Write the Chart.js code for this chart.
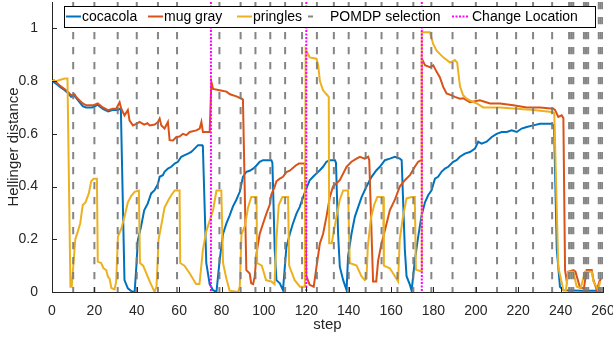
<!DOCTYPE html>
<html>
<head>
<meta charset="utf-8">
<script src="https://cdn.jsdelivr.net/npm/chart.js@4.4.0/dist/chart.umd.min.js"></script>
<style>
  html, body { margin: 0; padding: 0; background: #fff; }
  #wrap { width: 613px; height: 337px; }
</style>
</head>
<body>
<div id="wrap"><canvas id="chart" width="613" height="337"></canvas></div>
<script>
// [step, Hellinger distance]
const cocacola = [
  [0,0.80],[2,0.79],[3.5,0.78],[6,0.765],[7.5,0.755],[9,0.74],[10.5,0.745],[11.5,0.735],[13,0.72],[14.5,0.705],[16,0.70],[19,0.70],[21.5,0.71],[24,0.695],[26.5,0.685],[28.5,0.69],[31,0.69],[32,0.695],[32.5,0.69],
  [34.2,0.045],[35.8,0.014],[37.5,0.003],[39,0],[39.8,0.096],[40.5,0.197],[42,0.247],[43.5,0.31],[45.2,0.336],[46.8,0.374],[48.4,0.386],[50,0.41],[50.8,0.437],[52.3,0.443],[53.1,0.456],[54.7,0.468],[56.3,0.475],[57.9,0.487],[59.4,0.494],[61,0.513],[62.6,0.519],[64.2,0.525],[65.7,0.531],[67.3,0.544],[68.9,0.557],[70.9,0.557],[71.2,0.55],
  [72.8,0.11],[74.4,0.03],[76,0.007],[77.6,0],[79.1,0.12],[80.7,0.22],[82.3,0.26],[83.8,0.29],[85.4,0.325],[87,0.35],[88.6,0.38],[90.1,0.437],[91.7,0.456],[93.3,0.46],[94.9,0.468],[96.5,0.48],[98,0.494],[99.6,0.5],[101.2,0.5],[103.5,0.5],[104,0.49],
  [105.1,0.16],[105.9,0.045],[107.5,0.033],[109,0.007],[110.6,0.17],[112.2,0.22],[113.7,0.26],[115.4,0.298],[116.9,0.323],[118.5,0.36],[119.7,0.386],[121.6,0.424],[123.2,0.437],[124.8,0.45],[126.4,0.462],[127.9,0.475],[129.5,0.494],[131.1,0.5],[133.5,0.5],[134,0.49],
  [135,0.22],[135.8,0.096],[137.4,0.045],[139,0.007],[139.7,0.134],[141.3,0.22],[142.9,0.285],[144.5,0.323],[146.1,0.36],[148.4,0.4],[150.8,0.437],[153.1,0.462],[154.7,0.475],[157.1,0.5],[159.4,0.506],[161.8,0.513],[164.1,0.506],[165,0.5],
  [166.5,0.16],[167.3,0.06],[168.9,0.027],[169.7,0.005],[171.2,0.12],[172.8,0.21],[174.4,0.29],[176,0.34],[177.5,0.367],[179.1,0.386],[180.7,0.43],[182.2,0.437],[183.8,0.456],[185.4,0.468],[187,0.475],[189.3,0.494],[190.9,0.5],[192.5,0.513],[194.8,0.525],[197.2,0.531],[199.6,0.544],[201.1,0.57],[202.7,0.563],[205.1,0.57],[207.5,0.588],[209.8,0.6],[212.2,0.607],[214.6,0.607],[216.9,0.613],[219.3,0.607],[221.6,0.62],[224,0.626],[227.1,0.632],[230.3,0.638],[233.4,0.638],[235.8,0.638],[236.9,0.63],
  [238.2,0.16],[239.7,0.02],[241.3,0.007],[250,0.005],[259,0.005]
];

const mugGray = [
  [0,0.8],[1,0.803],[3.5,0.784],[5.9,0.77],[7.5,0.76],[9.1,0.746],[10.6,0.75],[11.4,0.74],[13,0.727],[14.5,0.715],[16.2,0.708],[19.3,0.708],[21.6,0.715],[24,0.7],[26.4,0.69],[28.7,0.695],[30.3,0.695],[31.9,0.72],[32.7,0.695],[34.2,0.67],[35.8,0.69],[36.6,0.65],[38.2,0.632],[39.8,0.638],[41.3,0.645],[43.5,0.635],[45,0.64],[46.1,0.632],[48.5,0.635],[50,0.645],[50.8,0.658],[51.6,0.632],[53.1,0.62],[54.7,0.645],[55.5,0.576],[57.1,0.575],[58.7,0.588],[60.2,0.59],[61.8,0.6],[63.4,0.595],[65,0.607],[68.1,0.613],[69.7,0.62],[70.5,0.645],[71.2,0.607],[74.4,0.607],
  [75.2,0.797],[76,0.77],[79.1,0.765],[82.3,0.76],[84,0.75],[87,0.742],[89.5,0.733],[90.1,0.73],
  [91.7,0.083],[93.3,0.07],[94,0.033],[94.9,0.03],[95.7,0.06],[96.5,0.147],[98,0.22],[99.6,0.26],[101.2,0.298],[102.7,0.33],[103.5,0.37],[105.1,0.4],[105.9,0.42],[107.5,0.43],[109,0.437],[110.6,0.455],[112.2,0.46],[115,0.48],[116.5,0.487],[119.3,0.487],
  [120,0.06],[121.6,0.027],[123.5,0.02],[124.8,0.095],[126.4,0.184],[127.9,0.22],[129.5,0.285],[131.1,0.36],[132.6,0.4],[135.8,0.424],[139,0.475],[141.3,0.494],[143.7,0.506],[145.3,0.513],[147.5,0.506],[149.2,0.513],[149.7,0.5],
  [151.5,0.04],[153,0.04],[153.9,0.12],[155.5,0.184],[157.9,0.26],[159.4,0.31],[161.8,0.35],[164.1,0.4],[166.5,0.424],[168.9,0.443],[171.2,0.475],[172.8,0.494],[174.3,0.5],
  [174.5,0.885],[176,0.86],[178.3,0.853],[179.9,0.86],[181.5,0.835],[183,0.815],[184.6,0.778],[186.2,0.753],[188.6,0.746],[190.1,0.74],[192.5,0.733],[194,0.735],[197.2,0.72],[201.9,0.727],[206.7,0.715],[211.4,0.715],[217.7,0.708],[224,0.7],[230.3,0.7],[236.6,0.695],[237.4,0.69],[238.9,0.664],[240.5,0.67],[241.3,0.66],
  [242.1,0.083],[242.9,0.04],[243.6,0.077],[246,0.083],[247,0.077],[249.2,0.015],[251,0.015],[252.3,0.083],[254.7,0.083],[255.5,0.045],[257.1,0.007],[258.3,0.04],[259,0.05]
];

const pringles = [
  [0,0.8],[2,0.8],[4,0.805],[6,0.81],[7.3,0.81],[8.7,0.02],[9.3,0.02],[11,0.2],[12.2,0.23],[13.3,0.26],[14.5,0.33],[15.8,0.34],[17.4,0.375],[18.5,0.42],[19.6,0.43],[21.2,0.43],
  [21.6,0.115],[23.2,0.11],[24.3,0.09],[25.6,0.083],[26.4,0.058],[27.2,0.05],[28,0.015],[29.5,0.01],[30.3,0.04],[31.1,0.21],[32.7,0.24],[34.2,0.285],[35.8,0.34],[37.4,0.365],[39,0.38],[41,0.385],
  [41.5,0.11],[43,0.1],[46.1,0.04],[48.4,0],[49.3,0.02],[50.3,0.2],[51.5,0.25],[53.1,0.32],[55,0.35],[56.5,0.37],[57.9,0.385],[60.2,0.385],
  [60.5,0.11],[62.5,0.1],[65,0.07],[68,0.03],[69.6,0.03],[71.2,0.16],[72.8,0.23],[74.4,0.27],[76,0.31],[77.6,0.385],[79.9,0.385],
  [80.7,0.11],[82.3,0.05],[83.8,0.005],[87.8,0],[88.6,0.02],[89.4,0.22],[91,0.25],[92.5,0.32],[94,0.36],[96.5,0.36],
  [96.8,0.11],[99,0.1],[101,0.045],[103.5,0.04],[105,0.03],[105.9,0.2],[107,0.33],[108.7,0.36],[111.4,0.36],
  [111.9,0.1],[114.5,0.045],[117,0.02],[119.3,0.02],
  [119.7,0.92],[121.6,0.89],[124.8,0.885],[125.6,0.86],[126.4,0.8],[127.9,0.765],[129.5,0.75],[130.6,0.74],
  [130.8,0.185],[132,0.185],[134.2,0.285],[135.8,0.35],[137.4,0.385],[139.7,0.385],
  [140.5,0.11],[143.7,0.1],[146,0.06],[147.6,0.045],[148.4,0.05],[149,0.17],[150.5,0.28],[152,0.33],[153.5,0.36],[156.3,0.36],
  [156.6,0.1],[159.4,0.09],[161.8,0.06],[163.3,0.04],[164.1,0.2],[165.7,0.29],[167.3,0.355],[169.7,0.36],[171.2,0.36],
  [171.7,0.085],[173.6,0.08],[174.3,0.08],
  [174.5,0.985],[178.3,0.985],[179.9,0.94],[181.5,0.915],[184.6,0.89],[187.8,0.87],[190.1,0.88],[191.2,0.87],[192.5,0.78],[194,0.746],[195.7,0.733],[197.2,0.727],[200.4,0.715],[203.5,0.7],[211.4,0.7],[219.3,0.695],[227.1,0.69],[235.8,0.683],[237,0.68],
  [238.9,0.095],[241.3,0.007],[242.5,0.007],[243.6,0.077],[246,0.077],[247.6,0.02],[249.5,0.015],[251.5,0.077],[254.7,0.077],[255.5,0.04],[257.8,0.007],[258.6,0.04]
];

// steps of the vertical markers
const pomdpSteps = [10,20,31,40,50,59,79,89,96,103,110,118,125,133,140,148,155.5,163,170.5,179,189,200,210,219,227,236,244,245,246,251,252,253,258,259,260];
const changeSteps = [75, 120, 174.5];

const xTicks = [0,20,40,60,80,100,120,140,160,180,200,220,240,260];
const yTicks = [0,0.2,0.4,0.6,0.8,1];
const Y_MAX = 1.1;

const BLUE = '#0072BD', ORANGE = '#D95319', YELLOW = '#EDB120', MAGENTA = '#FF00FF', GRAY = 'rgba(120,120,120,0.9)';
const AXIS = '#262626';
const FONT = '"Liberation Sans", Arial, Helvetica, sans-serif';

function pts(arr) { return arr.map(p => ({ x: p[0], y: p[1] })); }
function vlines(steps) {
  const out = [];
  steps.forEach(s => { out.push({ x: s, y: Y_MAX }, { x: s, y: 0 }, { x: s, y: null }); });
  return out;
}

// legend drawn inside the top of the axes, like the original
const legendItems = [
  { label: 'cocacola', color: BLUE, x0: 66, x1: 81, tx: 82 },
  { label: 'mug gray', color: ORANGE, x0: 148, x1: 163, tx: 164 },
  { label: 'pringles', color: YELLOW, x0: 237, x1: 252, tx: 253 },
  { label: 'POMDP selection', color: GRAY, x0: 308, x1: 313, tx: 330, dash: [] },
  { label: 'Change Location', color: MAGENTA, x0: 452, x1: 469, tx: 472, dash: [2, 1.5] }
];

// no label-overhang padding, so the axes box matches the original
function noPad(scale) {
  scale.paddingTop = 0; scale.paddingBottom = 0;
  scale.paddingLeft = 0; scale.paddingRight = 0;
}

const extras = {
  id: 'extras',
  afterDatasetsDraw(chart) {
    const { ctx, scales: { x, y }, chartArea } = chart;
    ctx.save();
    ctx.strokeStyle = AXIS;
    ctx.lineWidth = 1;
    ctx.beginPath();
    xTicks.forEach(v => {
      const px = Math.round(x.getPixelForValue(v)) + 0.5;
      ctx.moveTo(px, chartArea.bottom);
      ctx.lineTo(px, chartArea.bottom - 5);
    });
    yTicks.forEach(v => {
      const py = Math.round(y.getPixelForValue(v)) + 0.5;
      ctx.moveTo(chartArea.left, py);
      ctx.lineTo(chartArea.left + 5, py);
    });
    ctx.stroke();
    ctx.restore();
  },
  afterDraw(chart) {
    const ctx = chart.ctx;
    ctx.save();
    ctx.fillStyle = '#fff';
    ctx.fillRect(64, 6, 531, 21);
    ctx.strokeStyle = '#000';
    ctx.lineWidth = 1;
    ctx.strokeRect(64.5, 6.5, 531, 21);
    ctx.font = '14px ' + FONT;
    ctx.textBaseline = 'middle';
    ctx.fillStyle = '#000';
    legendItems.forEach(it => {
      ctx.beginPath();
      ctx.setLineDash(it.dash || []);
      ctx.strokeStyle = it.color;
      ctx.lineWidth = 2;
      ctx.moveTo(it.x0, 16.5);
      ctx.lineTo(it.x1, 16.5);
      ctx.stroke();
      ctx.setLineDash([]);
      ctx.fillText(it.label, it.tx, 17);
    });
    ctx.restore();
  }
};

const seriesStyle = { borderWidth: 2, pointRadius: 0, tension: 0, fill: false };

new Chart(document.getElementById('chart'), {
  type: 'line',
  data: {
    datasets: [
      { label: 'Change Location', data: vlines(changeSteps), borderColor: MAGENTA, borderWidth: 2, borderDash: [2, 1.5], pointRadius: 0, order: 0 },
      { label: 'POMDP selection', data: vlines(pomdpSteps), borderColor: GRAY, borderWidth: 2, borderDash: [7.3, 7.7], pointRadius: 0, order: 1 },
      Object.assign({ label: 'pringles', data: pts(pringles), borderColor: YELLOW, order: 2 }, seriesStyle),
      Object.assign({ label: 'mug gray', data: pts(mugGray), borderColor: ORANGE, order: 3 }, seriesStyle),
      Object.assign({ label: 'cocacola', data: pts(cocacola), borderColor: BLUE, order: 4 }, seriesStyle)
    ]
  },
  options: {
    responsive: false,
    animation: false,
    spanGaps: false,
    layout: { padding: { left: 0, right: 10, top: 2, bottom: 0 } },
    plugins: { legend: { display: false }, tooltip: { enabled: false } },
    scales: {
      x: {
        type: 'linear', min: 0, max: 260,
        afterFit(scale) { scale.height = 45; noPad(scale); },
        afterBuildTicks(scale) { scale.ticks = xTicks.map(v => ({ value: v })); },
        grid: { display: false },
        border: { display: true, color: AXIS, width: 1 },
        ticks: { color: AXIS, font: { family: FONT, size: 14 }, padding: 3, maxRotation: 0, autoSkip: false },
        title: { display: true, text: 'step', color: AXIS, font: { family: FONT, size: 15 }, padding: { top: 0, bottom: 3 } }
      },
      y: {
        type: 'linear', min: 0, max: Y_MAX,
        afterFit(scale) { scale.width = 52; noPad(scale); },
        afterBuildTicks(scale) { scale.ticks = yTicks.map(v => ({ value: v })); },
        grid: { display: false },
        border: { display: true, color: AXIS, width: 1 },
        ticks: { color: AXIS, font: { family: FONT, size: 14 }, padding: 6, callback: v => String(Math.round(v * 10) / 10) },
        title: { display: true, text: 'Hellinger distance', color: AXIS, font: { family: FONT, size: 15 }, padding: { top: 5, bottom: 0 } }
      }
    }
  },
  plugins: [extras]
});
</script>
</body>
</html>
